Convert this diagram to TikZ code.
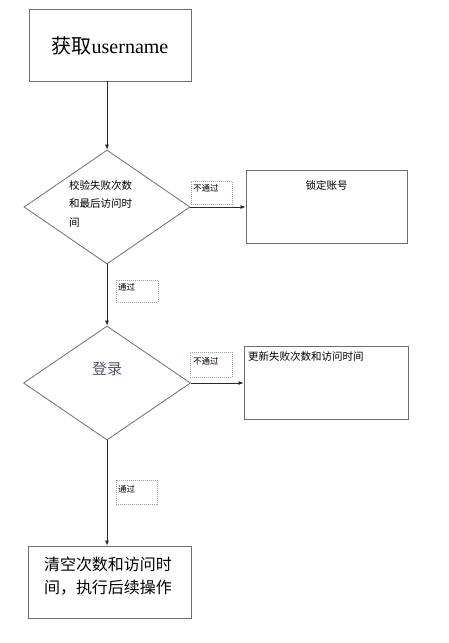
\documentclass[tikz,border=0pt]{standalone}
\usepackage{fontspec}
\setmainfont{Liberation Serif}
\newfontfamily\cjk{Noto Sans CJK SC}
\usetikzlibrary{shapes.geometric,arrows.meta}
\definecolor{edgegray}{HTML}{6E6E6E}
\definecolor{lblblue}{HTML}{8FA6C6}
\definecolor{dengcol}{HTML}{5A4C66}
\begin{document}
\begin{tikzpicture}[x=1pt,y=-1pt,
  box/.style={draw=edgegray, line width=0.9pt, rectangle, inner sep=0pt},
  dia/.style={draw=edgegray, line width=0.8pt, diamond, inner sep=0pt},
  lbl/.style={draw=lblblue, line width=0.6pt, dash pattern=on 1pt off 1pt, rectangle, inner sep=0pt},
  conn/.style={draw=black!85, line width=0.7pt, -{Latex[length=5pt,width=4pt]}},
  small/.style={font=\cjk\fontsize{8.5}{10}\selectfont},
  mid/.style={font=\cjk\fontsize{10.5}{18.5}\selectfont}
]
\useasboundingbox (0,0) rectangle (449,643);

% nodes
\node[box, minimum width=162pt, minimum height=72pt] (get) at (110,45) {};
\node[font=\fontsize{20}{24}\selectfont] (gettxt) at (110,46) {{\cjk 获取}username};

\node[dia, minimum width=166pt, minimum height=114pt] (d1) at (107,207) {};
\node[mid, anchor=north west, align=left, inner sep=0pt] (d1txt) at (69,180) {校验失败次数\\和最后访问时\\间};

\node[box, minimum width=161pt, minimum height=73pt] (lock) at (326.5,206.5) {};
\node[mid, inner sep=0pt] (locktxt) at (326.5,185) {锁定账号};

\node[lbl, minimum width=41pt, minimum height=23pt] (np1) at (211.5,192.5) {};
\node[small, anchor=north west, inner sep=0pt] (np1txt) at (193,184) {不通过};

\node[lbl, minimum width=42pt, minimum height=22pt] (p1) at (137,291) {};
\node[small, anchor=north west, inner sep=0pt] (p1txt) at (118,283) {通过};

\node[dia, minimum width=167pt, minimum height=114pt] (d2) at (107,383) {};
\node[font=\cjk\fontsize{15}{18}\selectfont, text=dengcol, inner sep=0pt] (d2txt) at (107,369) {登录};

\node[box, minimum width=164pt, minimum height=73pt] (upd) at (326,382.5) {};
\node[mid, anchor=north west, inner sep=0pt] (updtxt) at (248,351) {更新失败次数和访问时间};

\node[lbl, minimum width=42pt, minimum height=25pt] (np2) at (211,364.5) {};
\node[small, anchor=north west, inner sep=0pt] (np2txt) at (193,357) {不通过};

\node[lbl, minimum width=41pt, minimum height=24pt] (p2) at (136.5,492) {};
\node[small, anchor=north west, inner sep=0pt] (p2txt) at (118,485) {通过};

\node[box, minimum width=163pt, minimum height=72pt] (fin) at (109.5,582) {};
\node[font=\cjk\fontsize{16}{23}\selectfont, align=left, inner sep=0pt] (fintxt) at (108,576) {清空次数和访问时\\间，执行后续操作};

% connectors
\draw[conn] (get.south -| d1.north) -- (d1.north);
\draw[conn] (d1.east) -- (d1.east -| lock.west);
\draw[conn] (d1.south) -- (d2.north);
\draw[conn] (d2.east) -- (d2.east -| upd.west);
\draw[conn] (d2.south) -- (d2.south |- fin.north);
\end{tikzpicture}
\end{document}
